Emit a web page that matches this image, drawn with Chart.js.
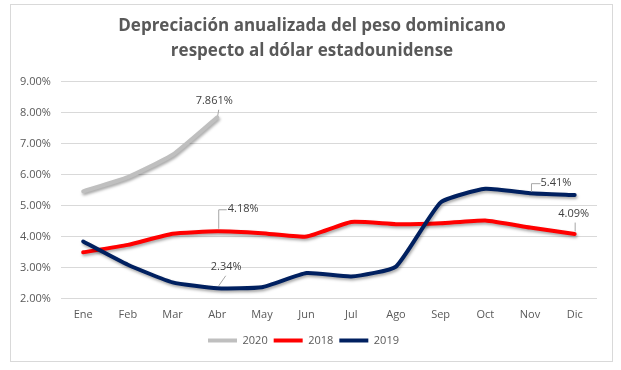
<!DOCTYPE html>
<html>
<head>
<meta charset="utf-8">
<script src="https://cdn.jsdelivr.net/npm/chart.js@4.4.1/dist/chart.umd.min.js"></script>
<style>
  html, body { margin: 0; padding: 0; background: #fff; }
  #frame { position: absolute; left: 10px; top: 4px; width: 601px; height: 356px; border: 1px solid #d9d9d9; }
  #chart { position: absolute; left: 0; top: 0; }
</style>
</head>
<body>
<div id="frame"></div>
<canvas id="chart" width="621" height="370"></canvas>
<script>
var months = ['Ene', 'Feb', 'Mar', 'Abr', 'May', 'Jun', 'Jul', 'Ago', 'Sep', 'Oct', 'Nov', 'Dic'];
var yTicks = [2, 3, 4, 5, 6, 7, 8, 9];

var dep2020 = [5.47, 5.93, 6.65, 7.861, null, null, null, null, null, null, null, null];
var dep2018 = [3.50, 3.74, 4.10, 4.18, 4.12, 4.01, 4.48, 4.41, 4.44, 4.53, 4.30, 4.09];
var dep2019 = [3.85, 3.10, 2.53, 2.34, 2.37, 2.83, 2.72, 3.04, 5.11, 5.55, 5.41, 5.35];

// labelled points: dataset index, month index, decimals
var callouts = [
    { ds: 0, i: 3, dec: 3, dx: -3, dy: -16, leader: [[1, -8], [0, -2]] },
    { ds: 1, i: 3, dec: 2, dx: 26, dy: -22, leader: [[9, -22], [1, -22], [1, -3]] },
    { ds: 2, i: 3, dec: 2, dx: 9, dy: -21, leader: [[8, -13], [1, -3]] },
    { ds: 2, i: 10, dec: 2, dx: 26, dy: -10, leader: [[10, -10], [1, -10], [1, -2]] },
    { ds: 1, i: 11, dec: 2, dx: -1, dy: -20, leader: [[0, -12], [0, -3]] }
];

var font = "'Open Sans', 'Liberation Sans', sans-serif";

var shadowPlugin = {
    id: 'lineShadow',
    beforeDatasetDraw: function(chart) {
        var ctx = chart.ctx;
        ctx.save();
        ctx.shadowColor = 'rgba(0, 0, 0, 0.35)';
        ctx.shadowBlur = 3;
        ctx.shadowOffsetX = 1;
        ctx.shadowOffsetY = 2;
    },
    afterDatasetDraw: function(chart) {
        chart.ctx.restore();
    }
};

// nudge the title a little right, like the original
var titleShift = {
    id: 'titleShift',
    afterLayout: function(chart) {
        if (chart.titleBlock) chart.titleBlock.left += 17;
    }
};

var calloutPlugin = {
    id: 'callouts',
    afterDatasetsDraw: function(chart) {
        var ctx = chart.ctx;
        ctx.save();
        callouts.forEach(function(c) {
            var pt = chart.getDatasetMeta(c.ds).data[c.i];
            var v = chart.data.datasets[c.ds].data[c.i];
            ctx.strokeStyle = '#a6a6a6';
            ctx.lineWidth = 1;
            ctx.beginPath();
            c.leader.forEach(function(p, k) {
                if (k === 0) ctx.moveTo(pt.x + p[0] + 0.5, pt.y + p[1] + 0.5);
                else ctx.lineTo(pt.x + p[0] + 0.5, pt.y + p[1] + 0.5);
            });
            ctx.stroke();
            ctx.fillStyle = '#404040';
            ctx.font = '11px ' + font;
            ctx.textAlign = 'center';
            ctx.textBaseline = 'middle';
            ctx.fillText(v.toFixed(c.dec) + '%', pt.x + c.dx, pt.y + c.dy);
        });
        ctx.restore();
    }
};

var ctx = document.getElementById('chart').getContext('2d');

var myChart = new Chart(ctx, {
    type: 'line',
    data: {
        labels: months,
        datasets: [
            { label: '2020', data: dep2020, borderColor: '#bfbfbf', backgroundColor: '#bfbfbf', order: 2 },
            { label: '2018', data: dep2018, borderColor: '#ff0000', backgroundColor: '#ff0000', order: 1 },
            { label: '2019', data: dep2019, borderColor: '#002060', backgroundColor: '#002060', order: 0 }
        ]
    },
    options: {
        responsive: false,
        animation: false,
        spanGaps: false,
        elements: {
            line: { borderWidth: 4, tension: 0.15, borderCapStyle: 'round', borderJoinStyle: 'round' },
            point: { radius: 0, hoverRadius: 0 }
        },
        layout: { padding: { left: 10, right: 24, top: 6, bottom: 14 } },
        plugins: {
            tooltip: { enabled: false },
            title: {
                display: true,
                text: ['Depreciación anualizada del peso dominicano', 'respecto al dólar estadounidense'],
                color: '#595959',
                font: { family: font, size: 17, weight: 'bold', lineHeight: 1.47 },
                padding: { top: 8, bottom: 18 }
            },
            legend: {
                position: 'bottom',
                labels: {
                    color: '#595959',
                    font: { family: font, size: 11 },
                    boxWidth: 29,
                    boxHeight: 4,
                    padding: 6,
                    sort: function(a, b) { return a.datasetIndex - b.datasetIndex; },
                    generateLabels: function(chart) {
                        var items = Chart.defaults.plugins.legend.labels.generateLabels(chart);
                        items.forEach(function(it) { it.lineWidth = 0; });
                        return items;
                    }
                }
            }
        },
        scales: {
            x: {
                offset: true,
                grid: { display: false },
                border: { display: false },
                afterFit: function(axis) {
                    axis.height = axis.height + 7;
                },
                ticks: { color: '#595959', font: { family: font, size: 11 }, padding: 1 }
            },
            y: {
                min: 2,
                max: 9,
                afterBuildTicks: function(axis) {
                    axis.ticks = yTicks.map(function(v) { return { value: v }; });
                },
                grid: { color: '#d9d9d9', drawTicks: false },
                border: { display: false },
                ticks: {
                    color: '#595959',
                    font: { family: font, size: 11 },
                    padding: 10,
                    callback: function(v) { return v.toFixed(2) + '%'; }
                }
            }
        }
    },
    plugins: [shadowPlugin, titleShift, calloutPlugin]
});
</script>
</body>
</html>
